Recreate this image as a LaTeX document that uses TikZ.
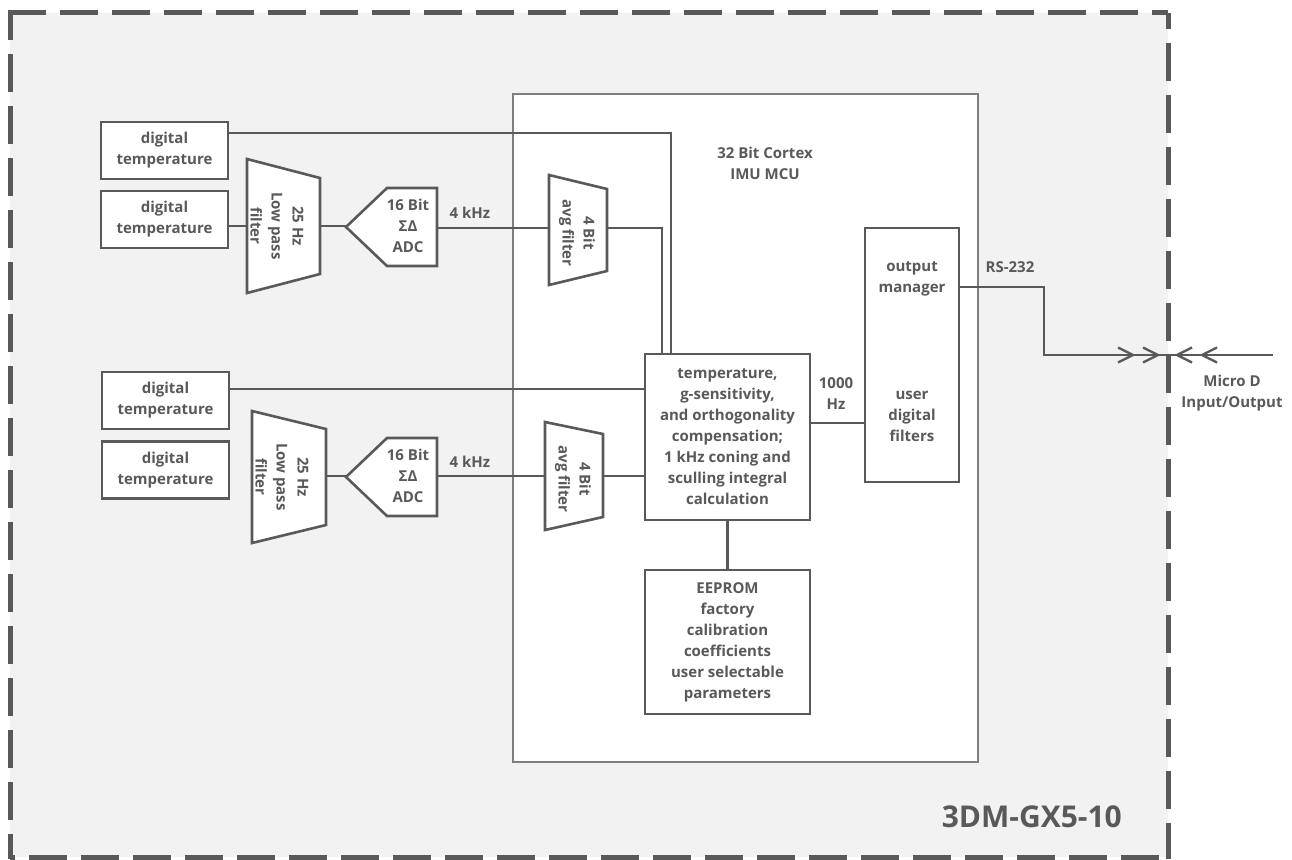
\documentclass[tikz,border=0pt]{standalone}
\usepackage{fontspec}
\setmainfont{Open Sans}
\definecolor{ln}{HTML}{595959}
\definecolor{mcuc}{HTML}{7F7F7F}
\definecolor{bg}{HTML}{F2F2F2}
\newcommand\txtfont{\fontsize{15}{21}\selectfont\bfseries}
\tikzset{
  conn/.style={draw=ln, line width=2.6pt},
  blk/.style={draw=ln, line width=2.6pt, fill=white, text=ln, font=\txtfont, align=center, inner sep=0pt},
  lbl/.style={text=ln, font=\txtfont, align=center, inner sep=0pt},
  shp/.style={draw=ln, line width=2.6pt, fill=white, line join=miter},
  chev/.style={draw=ln, line width=2.4pt},
  brd/.style={draw=ln, line width=5pt, dash pattern=on 38pt off 14pt},
}
\begin{document}
\begin{tikzpicture}[x=1pt,y=-1pt]
\useasboundingbox (0,0) rectangle (1292,859);
% enclosure
\fill[bg] (10,13) rectangle (1168,857);
\draw[brd] (7.5,13) -- (1168,13);
\draw[brd, dash phase=11pt] (10,13) -- (10,859);
\draw[brd, dash phase=22pt] (1168,13) -- (1168,859);
\draw[brd, dash phase=33pt] (10,857) -- (1168,857);
\node[lbl, font=\fontsize{30}{36}\selectfont\bfseries, anchor=base east] (model) at (1122,827) {3DM-GX5-10};

% MCU
\node[draw=mcuc, line width=2.6pt, fill=white, minimum width=465pt, minimum height=668pt, inner sep=0pt] (mcu) at (745.5,428) {};
\node[lbl] (mcutitle) at (765,163) {32 Bit Cortex\\IMU MCU};

% sensor boxes
\node[blk, minimum width=127pt, minimum height=57pt] (dt1) at (164.5,150.5) {digital\\temperature};
\node[blk, minimum width=127pt, minimum height=57pt] (dt2) at (164.5,219.5) {digital\\temperature};
\node[blk, minimum width=127pt, minimum height=57pt] (dt3) at (165.5,400.5) {digital\\temperature};
\node[blk, minimum width=127pt, minimum height=57pt] (dt4) at (165.5,470) {digital\\temperature};

% chain 1
\draw[shp] (247,159) -- (320,178) -- (320,274) -- (247,293) -- cycle;
\coordinate (lpf1w) at (247,226); \coordinate (lpf1e) at (320,226);
\node[lbl, rotate=-90] (lpf1) at (277,226) {25 Hz\\Low pass\\filter};
\draw[shp] (346,227) -- (387,188) -- (437,188) -- (437,266) -- (387,266) -- cycle;
\coordinate (adc1w) at (346,226); \coordinate (adc1e) at (437,228);
\node[lbl] (adc1) at (408,226) {16 Bit\\ΣΔ\\ADC};
\draw[shp] (549,175) -- (607,189) -- (607,271) -- (549,285) -- cycle;
\coordinate (avg1w) at (549,228); \coordinate (avg1e) at (607,228);
\node[lbl, rotate=-90] (avg1) at (577,233) {4 Bit\\avg filter};
\node[lbl] (khz1) at (470,213) {4 kHz};

% chain 2
\draw[shp] (252,411) -- (326,429) -- (326,525) -- (252,543) -- cycle;
\coordinate (lpf2e) at (326,476);
\node[lbl, rotate=-90] (lpf2) at (282,477) {25 Hz\\Low pass\\filter};
\draw[shp] (346,477) -- (387,438) -- (437,438) -- (437,516) -- (387,516) -- cycle;
\coordinate (adc2w) at (346,476); \coordinate (adc2e) at (437,476);
\node[lbl] (adc2) at (408,476) {16 Bit\\ΣΔ\\ADC};
\draw[shp] (545,422) -- (603,434) -- (603,517) -- (545,530) -- cycle;
\coordinate (avg2w) at (545,476); \coordinate (avg2e) at (603,476);
\node[lbl, rotate=-90] (avg2) at (573,479) {4 Bit\\avg filter};
\node[lbl] (khz2) at (470,462) {4 kHz};

% processing blocks
\node[blk, minimum width=165pt, minimum height=166pt] (comp) at (727.5,437) {temperature,\\g-sensitivity,\\and orthogonality\\compensation;\\1 kHz coning and\\sculling integral\\calculation};
\node[blk, minimum width=165pt, minimum height=144pt] (ee) at (727.5,642) {EEPROM\\factory\\calibration\\coefficients\\user selectable\\parameters};
\node[blk, minimum width=94pt, minimum height=254pt] (out) at (912,355) {};
\node[lbl] (om) at (912,279) {output\\manager};
\node[lbl] (udf) at (912,416) {user\\digital\\filters};
\node[lbl] (hz) at (836,394) {1000\\Hz};

% connectors
\coordinate (j1) at (671,133);
\coordinate (x662) at (662,0);
\coordinate (j3) at (0,389);
\coordinate (y423) at (0,423);
\draw[conn] (dt1.east |- j1) -| (comp.north -| j1);
\draw[conn] (dt2.east |- lpf1w) -- (lpf1w);
\draw[conn] (lpf1e) -- (adc1w);
\draw[conn] (adc1e) -- (avg1w);
\draw[conn] (avg1e) -| (comp.north -| x662);
\draw[conn] (dt3.east |- j3) -- (comp.west |- j3);
\draw[conn] (lpf2e) -- (adc2w);
\draw[conn] (adc2e) -- (avg2w);
\draw[conn] (avg2e) -- (comp.west |- avg2e);
\draw[conn] (comp.east |- y423) -- (out.west |- y423);
\draw[conn] (comp.south) -- (ee.north);

% RS-232 output
\coordinate (rs) at (0,287);
\coordinate (bend) at (1044,0);
\coordinate (port) at (1168,355);
\coordinate (ext) at (1273,355);
\draw[conn] (out.east |- rs) -| (bend |- port) -- (port);
\draw[conn] (ext) -- (port);
\coordinate (t1) at (1133,355); \coordinate (t2) at (1158,355);
\coordinate (t3) at (1177,355); \coordinate (t4) at (1202,355);
\foreach \t in {t1,t2} \draw[chev] ([xshift=-15pt,yshift=-7.5pt]\t) -- (\t) -- ([xshift=-15pt,yshift=7.5pt]\t);
\foreach \t in {t3,t4} \draw[chev] ([xshift=15pt,yshift=-7.5pt]\t) -- (\t) -- ([xshift=15pt,yshift=7.5pt]\t);
\node[lbl] (rslbl) at (1010,267) {RS-232};
\node[lbl] (io) at (1232,393) {Micro D\\Input/Output};
\end{tikzpicture}
\end{document}
